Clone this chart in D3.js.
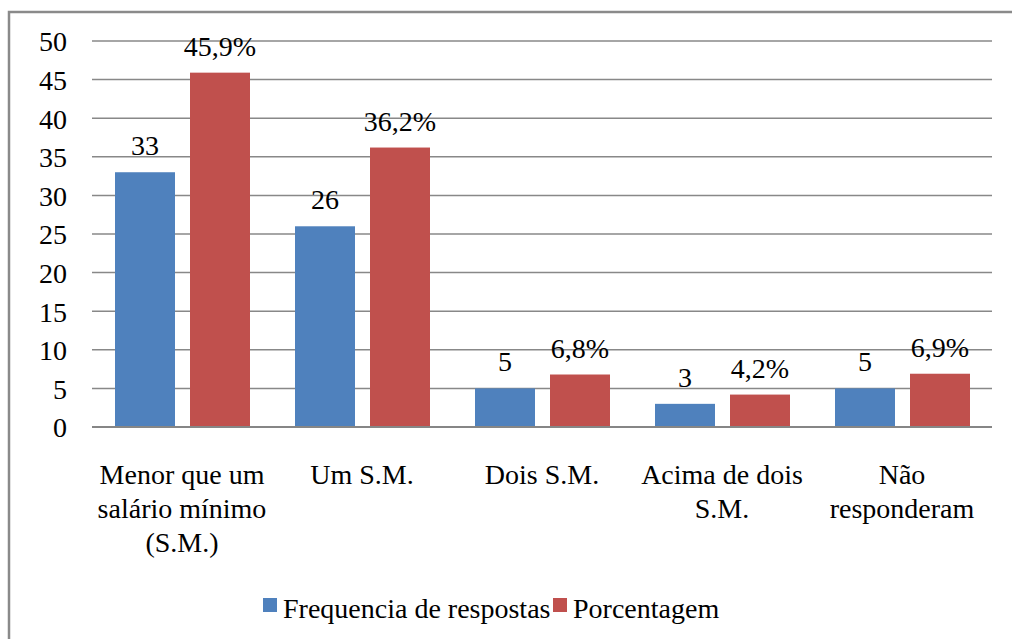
<!DOCTYPE html>
<html>
<head>
<meta charset="utf-8">
<script src="https://cdn.jsdelivr.net/npm/d3@7"></script>
</head>
<body style="margin:0">
<script>
// Chart data
var categories = [
    ["Menor que um", "salário mínimo", "(S.M.)"],
    ["Um S.M."],
    ["Dois S.M."],
    ["Acima de dois", "S.M."],
    ["Não", "responderam"]
];
var frequencia = [33, 26, 5, 3, 5];
var porcentagem = [45.9, 36.2, 6.8, 4.2, 6.9];
var porcentagemLabels = ["45,9%", "36,2%", "6,8%", "4,2%", "6,9%"];
var seriesNames = ["Frequencia de respostas", "Porcentagem"];
var yTicks = [0, 5, 10, 15, 20, 25, 30, 35, 40, 45, 50];

var colors = ["#4F81BD", "#C0504D"];
var FS = 28;

var W = 1012, H = 639;
var margin = {top: 41, left: 92},
    width = 992 - margin.left,
    height = 427 - margin.top;

var root = d3.select("body").append("svg")
    .attr("width", W)
    .attr("height", H)
    .attr("font-family", "Liberation Serif")
    .attr("font-size", FS);

// Outer frame (right and bottom edges run off the page)
root.append("rect")
    .attr("x", 9).attr("y", 12)
    .attr("width", W + 20).attr("height", H + 20)
    .attr("fill", "none")
    .attr("stroke", "#8a8a8a")
    .attr("stroke-width", 2.5);

var svg = root.append("g")
    .attr("transform", "translate(" + margin.left + "," + margin.top + ")");

var idx = d3.range(categories.length);

var x = d3.scaleBand()
    .domain(idx)
    .range([0, width]);

var x1 = d3.scaleBand()
    .domain([0, 1])
    .range([23, x.bandwidth() - 22])
    .paddingInner(0.2);

var y = d3.scaleLinear()
    .domain([0, 50])
    .range([height, 0]);

// Gridlines
svg.append("g")
    .selectAll("line")
    .data(yTicks.filter(function(d) { return d > 0; }))
    .join("line")
    .attr("x1", 0).attr("x2", width)
    .attr("y1", function(d) { return y(d); })
    .attr("y2", function(d) { return y(d); })
    .attr("stroke", "#888")
    .attr("stroke-width", 1.5);

// Y axis labels
var yAxis = svg.append("g")
    .call(d3.axisLeft(y).tickValues(yTicks).tickSize(0).tickPadding(25));
yAxis.attr("font-family", null).attr("font-size", null);
yAxis.select(".domain").remove();
yAxis.selectAll("text")
    .attr("fill", "#000")
    .attr("dy", "0.35em");

// Bars
var groups = svg.selectAll(".cat")
    .data(idx)
    .join("g")
    .attr("class", "cat")
    .attr("transform", function(i) { return "translate(" + x(i) + ",0)"; });

groups.append("rect")
    .attr("x", x1(0))
    .attr("width", x1.bandwidth())
    .attr("y", function(i) { return y(frequencia[i]); })
    .attr("height", function(i) { return height - y(frequencia[i]); })
    .attr("fill", colors[0]);

groups.append("rect")
    .attr("x", x1(1))
    .attr("width", x1.bandwidth())
    .attr("y", function(i) { return y(porcentagem[i]); })
    .attr("height", function(i) { return height - y(porcentagem[i]); })
    .attr("fill", colors[1]);

// Data labels
groups.append("text")
    .attr("x", x1(0) + x1.bandwidth() / 2)
    .attr("y", function(i) { return y(frequencia[i]) - 17; })
    .attr("text-anchor", "middle")
    .text(function(i) { return frequencia[i]; });

groups.append("text")
    .attr("x", x1(1) + x1.bandwidth() / 2)
    .attr("y", function(i) { return y(porcentagem[i]) - 17; })
    .attr("text-anchor", "middle")
    .text(function(i) { return porcentagemLabels[i]; });

// Baseline
svg.append("line")
    .attr("x1", 0).attr("x2", width)
    .attr("y1", y(0)).attr("y2", y(0))
    .attr("stroke", "#868686")
    .attr("stroke-width", 2);

// Category labels
var catLabels = groups.append("text")
    .attr("text-anchor", "middle");
catLabels.selectAll("tspan")
    .data(function(i) { return categories[i]; })
    .join("tspan")
    .attr("x", x.bandwidth() / 2)
    .attr("y", function(d, j) { return height + 57 + j * 34; })
    .text(function(d) { return d; });

// Legend
var legend = root.append("g");
var legendX = [263, 553];
seriesNames.forEach(function(name, k) {
    legend.append("rect")
        .attr("x", legendX[k]).attr("y", 598)
        .attr("width", 14).attr("height", 14)
        .attr("fill", colors[k]);
    legend.append("text")
        .attr("x", legendX[k] + 20).attr("y", 618)
        .text(name);
});
</script>
</body>
</html>
